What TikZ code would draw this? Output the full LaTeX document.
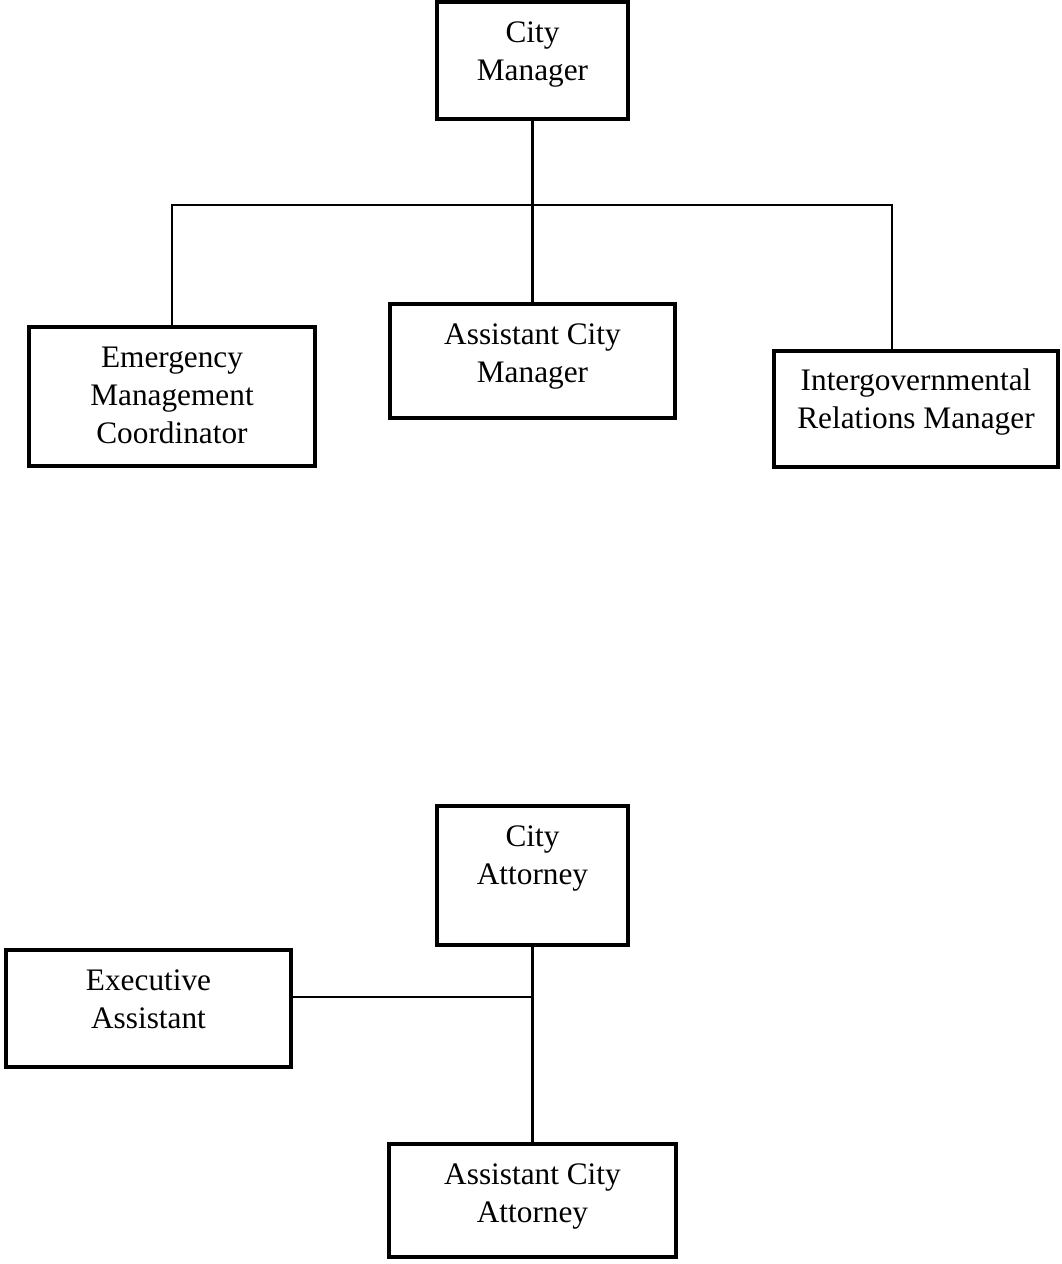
\documentclass[tikz,border=0pt]{standalone}
\usepackage{fontspec}
\setmainfont{Liberation Serif}
\newcommand{\boxlines}[1]{\begin{tabular}[t]{@{}c@{}}#1\end{tabular}}
\begin{document}
\begin{tikzpicture}[x=1pt,y=-1pt,
  orgbox/.style={draw=black, line width=4pt, rectangle, inner sep=0pt},
  orgtext/.style={anchor=base, inner sep=0pt,
    font=\fontsize{31.3}{38}\selectfont},
  link/.style={draw=black, line width=2.5pt}]
\useasboundingbox (0,0) rectangle (1062,1264);

% City manager's office
\node[orgbox, minimum width=191pt, minimum height=117pt] (cm) at (532.5,60.5) {};
\node[orgbox, minimum width=286pt, minimum height=139pt] (emc) at (172,396.5) {};
\node[orgbox, minimum width=285pt, minimum height=114pt] (acm) at (532.5,361) {};
\node[orgbox, minimum width=284pt, minimum height=116pt] (igr) at (916,408.5) {};

\node[orgtext] (cmt) at ([yshift=-42pt]cm.north) {\boxlines{City\\Manager}};
\node[orgtext] (emct) at ([yshift=-42pt]emc.north) {\boxlines{Emergency\\Management\\Coordinator}};
\node[orgtext] (acmt) at ([yshift=-42pt]acm.north) {\boxlines{Assistant City\\Manager}};
\node[orgtext] (igrt) at ([yshift=-42pt]igr.north) {\boxlines{Intergovernmental\\Relations Manager}};

\coordinate (rbend) at (892,205);
\draw[link] (cm.south) -- (acm.north);
\draw[link] (emc.north) |- (rbend) -- (rbend |- igr.north);

% City attorney's office
\node[orgbox, minimum width=191pt, minimum height=139pt] (ca) at (532.5,875.5) {};
\node[orgbox, minimum width=285pt, minimum height=117pt] (ea) at (148.5,1008.5) {};
\node[orgbox, minimum width=287pt, minimum height=113pt] (aca) at (532.5,1200.5) {};

\node[orgtext] (cat) at ([yshift=-42pt]ca.north) {\boxlines{City\\Attorney}};
\node[orgtext] (eat) at ([yshift=-42pt]ea.north) {\boxlines{Executive\\Assistant}};
\node[orgtext] (acat) at ([yshift=-42pt]aca.north) {\boxlines{Assistant City\\Attorney}};

\coordinate (junc) at (532.5,997);
\draw[link] (ca.south) -- (aca.north);
\draw[link] (junc -| ea.east) -- (junc);
\end{tikzpicture}
\end{document}
